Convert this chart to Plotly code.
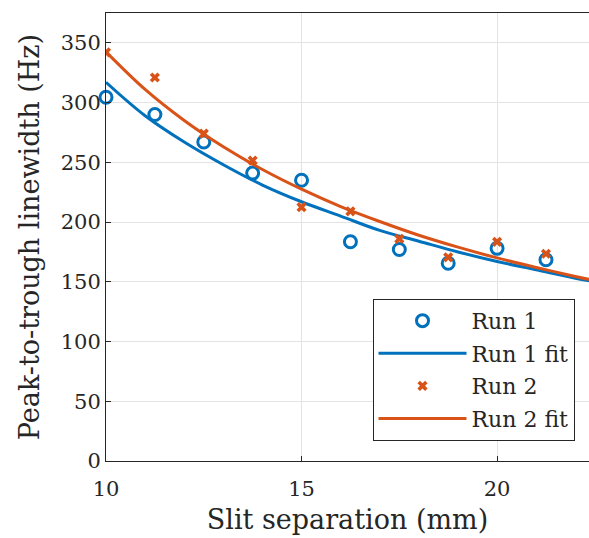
import plotly.graph_objects as go

# Measured data
run1_x = [10, 11.25, 12.5, 13.75, 15, 16.25, 17.5, 18.75, 20, 21.25, 22.5]
run1_y = [304.5, 290, 267, 241, 235, 183.5, 177, 165.5, 178, 168.5, 148]
run2_x = [10, 11.25, 12.5, 13.75, 15, 16.25, 17.5, 18.75, 20, 21.25]
run2_y = [342, 321, 274, 251.5, 212.5, 209, 186, 170.5, 183.5, 173.5]

# Fit curves
fit_x = [10, 11, 12, 13, 14, 15, 16, 17, 18, 19, 20, 21, 22, 22.5]
fit1_y = [317, 289, 267, 248, 231, 217, 205, 193, 184, 175, 167, 160, 153, 150]
fit2_y = [342.5, 311, 285, 263, 244, 227.5, 213, 200.5, 189, 179, 170, 162, 154.5, 151]

x_ticks = [10, 15, 20]
y_ticks = [0, 50, 100, 150, 200, 250, 300, 350]

BLUE = "#0072BD"
ORANGE = "#D95319"
FONT = "DejaVu Serif, serif"

fig = go.Figure()
fig.add_trace(go.Scatter(x=run1_x, y=run1_y, mode="markers", name="Run 1",
                         marker=dict(symbol="circle-open", size=12, color=BLUE,
                                     line=dict(width=3, color=BLUE)),
                         cliponaxis=False, legendgroup="a"))
fig.add_trace(go.Scatter(x=fit_x, y=fit1_y, mode="lines", name="Run 1 fit",
                         line=dict(color=BLUE, width=3, shape="spline"), legendgroup="b"))
fig.add_trace(go.Scatter(x=run2_x, y=run2_y, mode="markers", name="Run 2",
                         marker=dict(symbol="x", size=9, color=ORANGE,
                                     line=dict(width=0)), legendgroup="c"))
fig.add_trace(go.Scatter(x=fit_x, y=fit2_y, mode="lines", name="Run 2 fit",
                         line=dict(color=ORANGE, width=3, shape="spline"), legendgroup="d"))

fig.update_layout(
    width=589, height=538,
    margin=dict(l=106, r=0, t=13, b=77),
    plot_bgcolor="white", paper_bgcolor="white",
    font=dict(family=FONT, size=21, color="#262626"),
    showlegend=True,
    legend=dict(x=0.97, y=0.045, xanchor="right", yanchor="bottom",
                bgcolor="white", bordercolor="#262626", borderwidth=1,
                font=dict(family=FONT, size=22, color="#262626"),
                traceorder="grouped", tracegroupgap=1, itemwidth=88),
    xaxis=dict(range=[10, 22.35], tickvals=x_ticks, showgrid=True,
               gridcolor="#e3e3e3", gridwidth=1, showline=True, linecolor="#262626",
               linewidth=1, mirror=True, ticks="inside", ticklen=5, tickcolor="#262626",
               tickfont=dict(size=21), zeroline=False, ticklabelstandoff=9,
               title=dict(text="Slit separation (mm)", font=dict(size=27), standoff=9)),
    yaxis=dict(range=[0, 375], tickvals=y_ticks, showgrid=True,
               gridcolor="#e3e3e3", gridwidth=1, showline=True, linecolor="#262626",
               linewidth=1, mirror=False, ticks="inside", ticklen=5, tickcolor="#262626",
               tickfont=dict(size=21), zeroline=False,
               title=dict(text="Peak-to-trough linewidth (Hz)", font=dict(size=27), standoff=13)),
)

fig.write_html("out.html")
